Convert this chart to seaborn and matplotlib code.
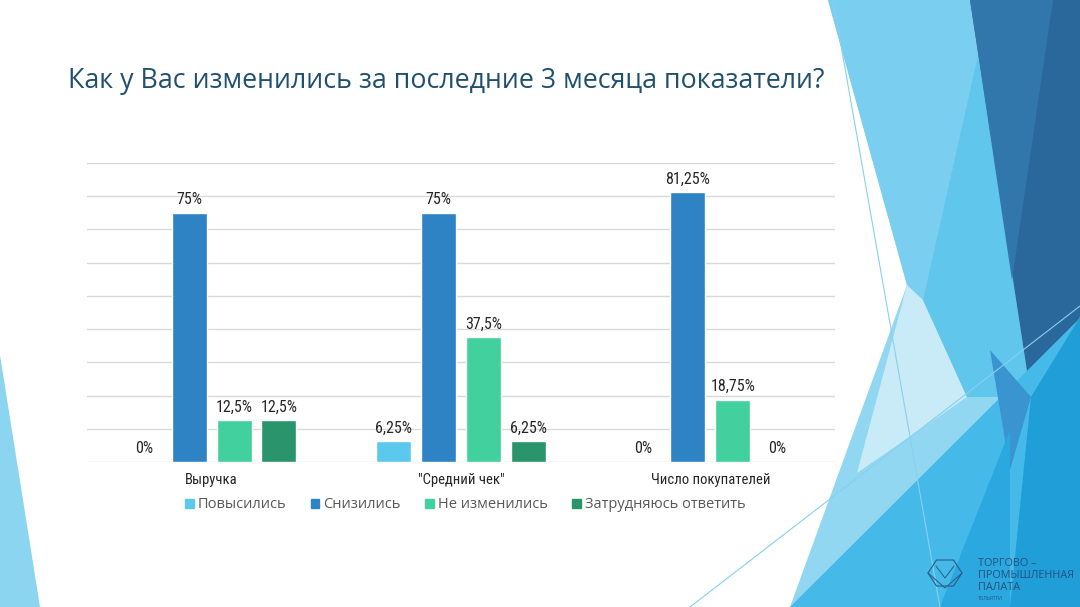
import matplotlib
matplotlib.use("Agg")
import matplotlib.pyplot as plt
from matplotlib.patches import Polygon
from matplotlib.lines import Line2D
from matplotlib import font_manager
import seaborn as sns
import pandas as pd
import numpy as np

# ---- data ----
categories = ["Выручка", "\"Средний чек\"", "Число покупателей"]
series = ["Повысились", "Снизились", "Не изменились", "Затрудняюсь ответить"]
povysilis = [0, 6.25, 0]
snizilis = [75, 75, 81.25]
ne_izmenilis = [12.5, 37.5, 18.75]
zatrudnyayus = [12.5, 6.25, 0]
colors = ["#5BC9EE", "#2E83C5", "#42D09E", "#2A946C"]
title = "Как у Вас изменились за последние 3 месяца показатели?"

values = [povysilis, snizilis, ne_izmenilis, zatrudnyayus]
rows = []
for s, vals in zip(series, values):
    for c, v in zip(categories, vals):
        rows.append({"cat": c, "series": s, "val": v})
df = pd.DataFrame(rows)

sns.set_theme(style="white")
avail = {f.name for f in font_manager.fontManager.ttflist}
narrow = next((f for f in ["Liberation Sans Narrow", "Roboto Condensed", "Open Sans Condensed", "Roboto"] if f in avail), "DejaVu Sans")
main_font = "Open Sans" if "Open Sans" in avail else "DejaVu Sans"
plt.rcParams["font.family"] = [main_font, "DejaVu Sans"]

W, H = 1080, 607
fig = plt.figure(figsize=(W / 100, H / 100), dpi=100)
fig.patch.set_facecolor("white")

def P(pts):
    return [(x / W, 1 - y / H) for x, y in pts]

bg = [
    ([(0, 355), (40, 607), (0, 607)], "#8BD5F1"),
    ([(828, 0), (1080, 0), (1080, 607), (790, 607), (907, 285)], "#92D7F2"),
    ([(828, 0), (970, 0), (978, 55), (923, 300), (907, 285)], "#7ACEEF"),
    ([(907, 285), (923, 300), (967, 397), (857, 473)], "#C9EAF7"),
    ([(978, 55), (1031, 397), (967, 397), (923, 300)], "#60C6EC"),
    ([(970, 0), (1080, 0), (1080, 317), (1031, 397)], "#2A679B"),
    ([(970, 0), (1053, 0), (1012, 280)], "#3177AC"),
    ([(790, 607), (1080, 318), (1080, 607)], "#45B9E7"),
    ([(1031, 397), (1080, 317), (1080, 607), (1010, 607)], "#1F9ED7"),
    ([(990, 350), (1031, 397), (1010, 470)], "#3A94D0"),
    ([(940, 607), (1010, 430), (1010, 607)], "#2AA8DF"),
]
for pts, col in bg:
    fig.add_artist(Polygon(P(pts), closed=True, transform=fig.transFigure,
                           facecolor=col, edgecolor="none", zorder=-10))
for (x0, y0), (x1, y1) in [((833, 0), (940, 607)), ((690, 607), (1080, 306))]:
    (a, b), (c, d) = P([(x0, y0), (x1, y1)])
    fig.add_artist(Line2D([a, c], [b, d], transform=fig.transFigure,
                          color="#86D1EF", lw=0.8, zorder=-9))

# logo emblem (hexagon with inner V)
lx, ly = 945, 573
ang = np.deg2rad(np.arange(0, 360, 60))
hexpts = [(lx + 17 * np.cos(a), ly + 15 * np.sin(a)) for a in ang]
fig.add_artist(Polygon(P(hexpts), closed=True, transform=fig.transFigure, facecolor="none",
                       edgecolor="#2B5C86", lw=0.8, zorder=-8))
for seg in [[(928, 573), (945, 588), (962, 573)], [(936, 566), (945, 578), (954, 566)]]:
    pts = P(seg)
    fig.add_artist(Line2D([p[0] for p in pts], [p[1] for p in pts], transform=fig.transFigure,
                          color="#2B5C86", lw=0.7, zorder=-8))
for txt, yy, fs in [("ТОРГОВО –", 563, 7.8), ("ПРОМЫШЛЕННАЯ", 575, 7.8), ("ПАЛАТА", 587, 7.8), ("ТОЛЬЯТТИ", 598, 3.5)]:
    x, y = P([(978, yy)])[0]
    fig.text(x, y, txt, fontsize=fs, color="#23527E", va="center", ha="left")

# chart
ax = fig.add_axes([87 / W, (H - 462) / H, 748 / W, 299 / H])
ax.set_facecolor("none")
sns.barplot(data=df, x="cat", y="val", hue="series", order=categories, hue_order=series,
            palette=colors, width=0.72, gap=0.22, errorbar=None, ax=ax, saturation=1,
            zorder=3)
ax.set_ylim(0, 90)
ax.set_yticks(range(0, 91, 10))
ax.yaxis.grid(True, color="#D9D9D9", lw=1, zorder=0)
ax.set_axisbelow(True)
ax.tick_params(axis="both", length=0)
ax.set_yticklabels([])
ax.set_xlabel("")
ax.set_ylabel("")
for sp in ax.spines.values():
    sp.set_visible(False)
ax.tick_params(axis="x", pad=8, labelsize=10.5, labelcolor="#262626")
for lab in ax.get_xticklabels():
    lab.set_fontfamily([narrow, "DejaVu Sans"])

def fmt(v):
    return f"{v:g}".replace(".", ",") + "%"

for cont, vals in zip(ax.containers, values):
    ax.bar_label(cont, labels=[fmt(v) for v in vals], padding=4, fontsize=11.5,
                 color="#262626", fontfamily=[narrow, "DejaVu Sans"])

leg = ax.get_legend()
if leg is not None:
    leg.remove()
handles = [plt.Rectangle((0, 0), 1, 1, color=c) for c in colors]
fig.legend(handles, series, loc="center", bbox_to_anchor=(465 / W, 1 - 505 / H), ncol=4,
           frameon=False, handlelength=0.6, handleheight=0.6, handletextpad=0.25,
           columnspacing=1.7, fontsize=10.5, labelcolor="#595959")

# title fitted to width
tx, ty = P([(68, 88)])[0]
t = fig.text(tx, ty, title, fontsize=20, color="#21506E", ha="left", va="baseline")
fig.canvas.draw()
w = t.get_window_extent().width
t.set_fontsize(20 * 754 / w)

fig.savefig("out.png", dpi=100)
